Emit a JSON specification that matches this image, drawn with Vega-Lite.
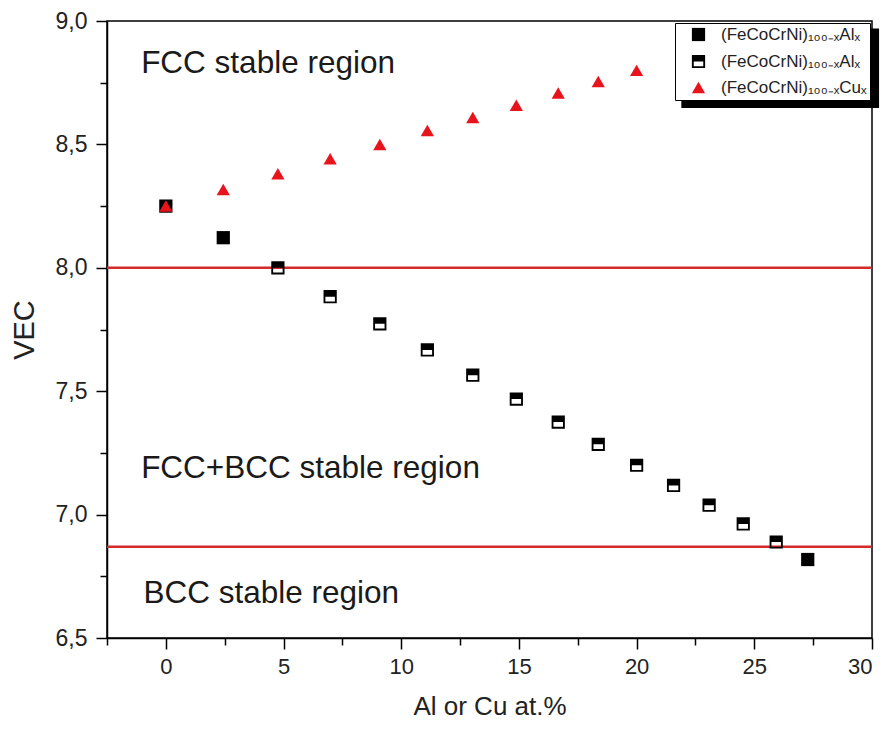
{
  "$schema": "https://vega.github.io/schema/vega-lite/v6.json",
  "width": 765,
  "height": 617,
  "autosize": {"type": "none"},
  "padding": {"left": 107, "top": 21, "right": 15, "bottom": 93},
  "background": "white",
  "config": {
    "view": {"stroke": "black", "strokeWidth": 1.5},
    "font": "Liberation Sans",
    "axis": {
      "grid": false,
      "domainColor": "black",
      "domainWidth": 1.5,
      "tickColor": "black",
      "tickWidth": 1.5,
      "tickSize": 11,
      "labelColor": "#222",
      "titleColor": "#222",
      "labelFont": "Liberation Sans",
      "titleFont": "Liberation Sans",
      "titleFontWeight": "normal"
    }
  },
  "resolve": {"axis": {"x": "independent", "y": "independent"}},
  "datasets": {
    "pts": [
      {"x": 0, "vec": 8.25, "s": "a"},
      {"x": 2.44, "vec": 8.122, "s": "a"},
      {"x": 27.27, "vec": 6.818, "s": "a"},
      {"x": 4.76, "vec": 8.0, "s": "b"},
      {"x": 6.98, "vec": 7.883, "s": "b"},
      {"x": 9.09, "vec": 7.773, "s": "b"},
      {"x": 11.11, "vec": 7.667, "s": "b"},
      {"x": 13.04, "vec": 7.565, "s": "b"},
      {"x": 14.89, "vec": 7.468, "s": "b"},
      {"x": 16.67, "vec": 7.375, "s": "b"},
      {"x": 18.37, "vec": 7.285, "s": "b"},
      {"x": 20.0, "vec": 7.2, "s": "b"},
      {"x": 21.57, "vec": 7.118, "s": "b"},
      {"x": 23.08, "vec": 7.038, "s": "b"},
      {"x": 24.53, "vec": 6.962, "s": "b"},
      {"x": 25.93, "vec": 6.889, "s": "b"},
      {"x": 0, "vec": 8.25, "s": "c"},
      {"x": 2.44, "vec": 8.317, "s": "c"},
      {"x": 4.76, "vec": 8.381, "s": "c"},
      {"x": 6.98, "vec": 8.442, "s": "c"},
      {"x": 9.09, "vec": 8.5, "s": "c"},
      {"x": 11.11, "vec": 8.556, "s": "c"},
      {"x": 13.04, "vec": 8.609, "s": "c"},
      {"x": 14.89, "vec": 8.659, "s": "c"},
      {"x": 16.67, "vec": 8.708, "s": "c"},
      {"x": 18.37, "vec": 8.755, "s": "c"},
      {"x": 20.0, "vec": 8.8, "s": "c"}
    ],
    "one": [{}]
  },
  "layer": [
    {
      "data": {"name": "pts"},
      "mark": {"type": "point", "opacity": 0},
      "encoding": {
        "x": {
          "field": "x", "type": "quantitative",
          "scale": {"domain": [-2.5, 30], "nice": false, "zero": false},
          "axis": {
            "orient": "bottom",
            "values": [-2.5, 2.5, 7.5, 12.5, 17.5, 22.5, 27.5],
            "labels": false, "domain": false, "tickSize": 7, "title": null
          }
        },
        "y": {
          "field": "vec", "type": "quantitative",
          "scale": {"domain": [6.5, 9.0], "nice": false, "zero": false},
          "axis": {
            "orient": "left",
            "values": [6.75, 7.25, 7.75, 8.25, 8.75],
            "labels": false, "domain": false, "tickSize": 7, "title": null
          }
        }
      }
    },
    {
      "data": {"name": "one"},
      "mark": {"type": "rule", "color": "#d42a2a", "strokeWidth": 2.5},
      "encoding": {"y": {"datum": 8.0, "type": "quantitative", "axis": null}}
    },
    {
      "data": {"name": "one"},
      "mark": {"type": "rule", "color": "#d42a2a", "strokeWidth": 2.5},
      "encoding": {"y": {"datum": 6.87, "type": "quantitative", "axis": null}}
    },
    {
      "data": {"name": "one"},
      "mark": {"type": "rect", "color": "black"},
      "encoding": {
        "x": {"datum": 21.9, "type": "quantitative", "axis": null},
        "x2": {"datum": 30.3},
        "y": {"datum": 8.647, "type": "quantitative", "axis": null},
        "y2": {"datum": 8.97}
      }
    },
    {
      "data": {"name": "pts"},
      "mark": {"type": "point", "filled": true, "opacity": 1},
      "encoding": {
        "x": {
          "field": "x", "type": "quantitative",
          "axis": {
            "orient": "bottom",
            "values": [0, 5, 10, 15, 20, 25, 30],
            "labelFontSize": 22,
            "labelPadding": 7,
            "title": "Al or Cu at.%",
            "titleFontSize": 26,
            "titlePadding": 16
          }
        },
        "y": {
          "field": "vec", "type": "quantitative",
          "axis": {
            "orient": "left",
            "values": [6.5, 7.0, 7.5, 8.0, 8.5, 9.0],
            "labelExpr": "replace(format(datum.value, '.1f'), '.', ',')",
            "labelFontSize": 23,
            "labelPadding": 9,
            "title": "VEC",
            "titleFontSize": 29,
            "titlePadding": 16
          }
        },
        "color": {
          "field": "s", "type": "nominal",
          "scale": {"domain": ["a", "b", "c"], "range": ["black", "black", "#e8141b"]},
          "legend": {
            "title": null,
            "orient": "none",
            "legendX": 568,
            "legendY": 2,
            "fillColor": "white",
            "strokeColor": "black",
            "padding": 3,
            "symbolOffset": 12,
            "labelOffset": 14,
            "rowPadding": 6,
            "labelFontSize": 17,
            "labelFont": "Liberation Sans",
            "labelColor": "#222",
            "symbolOpacity": 1,
            "labelExpr": "datum.label == 'c' ? '(FeCoCrNi)₁₀₀₋ₓCuₓ' : '(FeCoCrNi)₁₀₀₋ₓAlₓ'"
          }
        },
        "shape": {
          "field": "s", "type": "nominal",
          "scale": {"domain": ["a", "b", "c"], "range": ["square", "M-1,-1H1V1H-1Z M-0.72,0V0.72H0.72V0Z", "triangle-up"]}
        },
        "size": {
          "field": "s", "type": "nominal",
          "scale": {"domain": ["a", "b", "c"], "range": [175, 175, 330]}
        },
        "order": {"field": "s"}
      }
    },
    {
      "data": {"name": "one"},
      "mark": {"type": "text", "align": "left", "baseline": "alphabetic", "fontSize": 31.5, "color": "#1a1a1a", "font": "Liberation Sans"},
      "encoding": {"x": {"datum": -1.05, "type": "quantitative", "axis": null}, "y": {"datum": 8.788, "type": "quantitative", "axis": null}, "text": {"value": "FCC stable region"}}
    },
    {
      "data": {"name": "one"},
      "mark": {"type": "text", "align": "left", "baseline": "alphabetic", "fontSize": 31.5, "color": "#1a1a1a", "font": "Liberation Sans"},
      "encoding": {"x": {"datum": -1.05, "type": "quantitative", "axis": null}, "y": {"datum": 7.147, "type": "quantitative", "axis": null}, "text": {"value": "FCC+BCC stable region"}}
    },
    {
      "data": {"name": "one"},
      "mark": {"type": "text", "align": "left", "baseline": "alphabetic", "fontSize": 31.5, "color": "#1a1a1a", "font": "Liberation Sans"},
      "encoding": {"x": {"datum": -0.95, "type": "quantitative", "axis": null}, "y": {"datum": 6.641, "type": "quantitative", "axis": null}, "text": {"value": "BCC stable region"}}
    }
  ]
}
